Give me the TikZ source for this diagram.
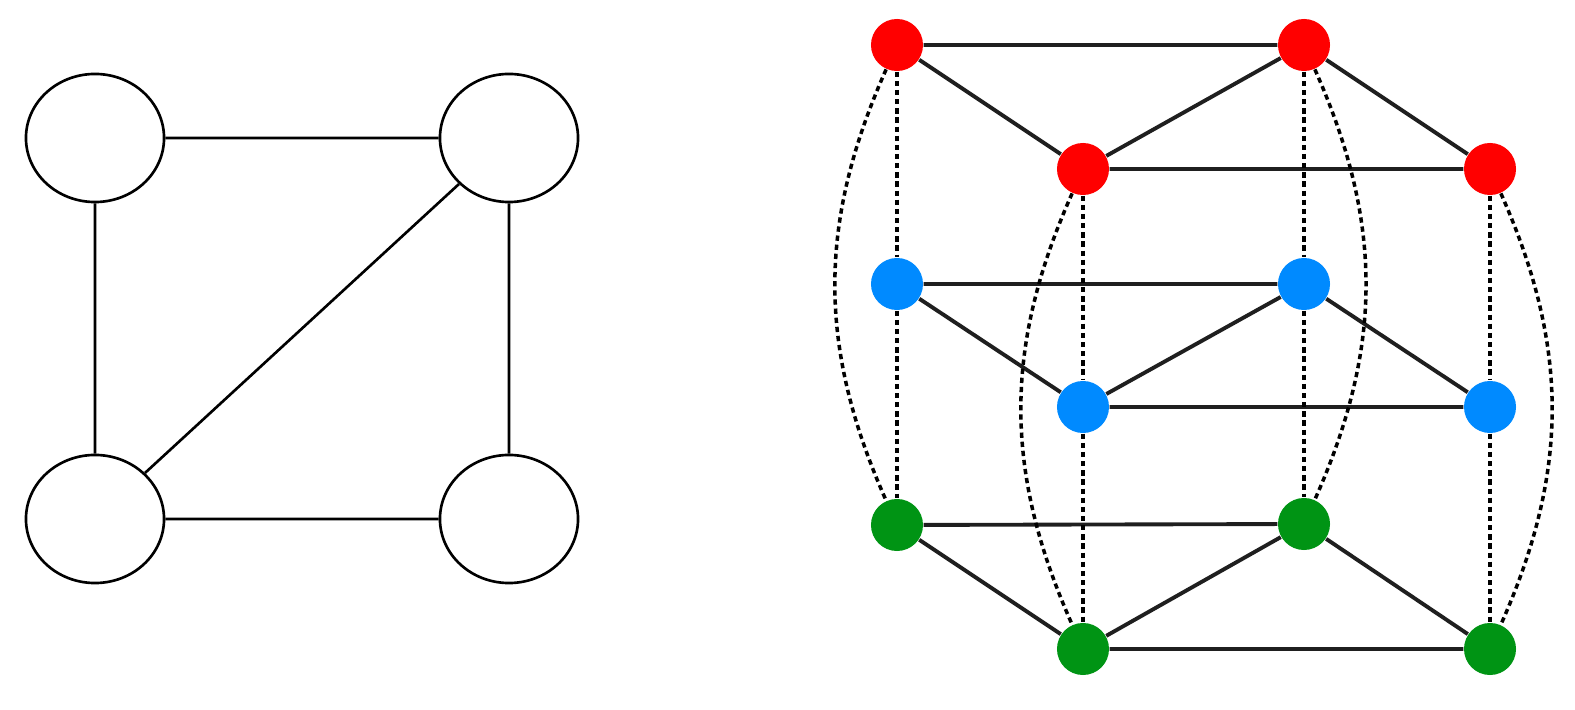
\documentclass[tikz,border=0pt]{standalone}
\usetikzlibrary{shapes.geometric}
\definecolor{vred}{RGB}{255,0,0}
\definecolor{vblue}{RGB}{0,138,255}
\definecolor{vgreen}{RGB}{0,148,20}
\begin{document}
\begin{tikzpicture}[x=0.01cm,y=-0.01cm,
  ell/.style={ellipse,draw,line width=0.75pt,minimum width=1.38cm,minimum height=1.28cm,inner sep=0pt},
  plain/.style={line width=0.75pt},
  vtx/.style={circle,fill=#1,inner sep=0pt,minimum size=0.52cm},
  sol/.style={line width=1.1pt,draw=black!88},
  dsh/.style={line width=1pt,dash pattern=on 1.5pt off 1.1pt}]
\useasboundingbox (0,0) rectangle (1575,710);
% left graph
\node[ell] (l1) at (95,138) {};
\node[ell] (l2) at (509,138) {};
\node[ell] (l3) at (95,519) {};
\node[ell] (l4) at (509,519) {};
\draw[plain] (l1)--(l2) (l1)--(l3) (l2)--(l4) (l3)--(l4) (l3)--(l2);
% right graph
\node[vtx=vred] (rA) at (897,45) {};
\node[vtx=vred] (rB) at (1304,45) {};
\node[vtx=vred] (rC) at (1083,169) {};
\node[vtx=vred] (rD) at (1490,169) {};
\node[vtx=vblue] (bA) at (897,284) {};
\node[vtx=vblue] (bB) at (1304,284) {};
\node[vtx=vblue] (bC) at (1083,407) {};
\node[vtx=vblue] (bD) at (1490,407) {};
\node[vtx=vgreen] (gA) at (897,525) {};
\node[vtx=vgreen] (gB) at (1304,524) {};
\node[vtx=vgreen] (gC) at (1083,649) {};
\node[vtx=vgreen] (gD) at (1490,649) {};
\foreach \ly in {r,b,g} {
  \draw[sol] (\ly A)--(\ly B) (\ly A)--(\ly C) (\ly C)--(\ly B) (\ly B)--(\ly D) (\ly C)--(\ly D);
}
\foreach \cl in {A,B,C,D} {
  \draw[dsh] (r\cl)--(b\cl) (b\cl)--(g\cl);
}
\draw[dsh] (rA) to[bend right=24] (gA);
\draw[dsh] (rC) to[bend right=24] (gC);
\draw[dsh] (rB) to[bend left=24] (gB);
\draw[dsh] (rD) to[bend left=24] (gD);
\end{tikzpicture}
\end{document}
